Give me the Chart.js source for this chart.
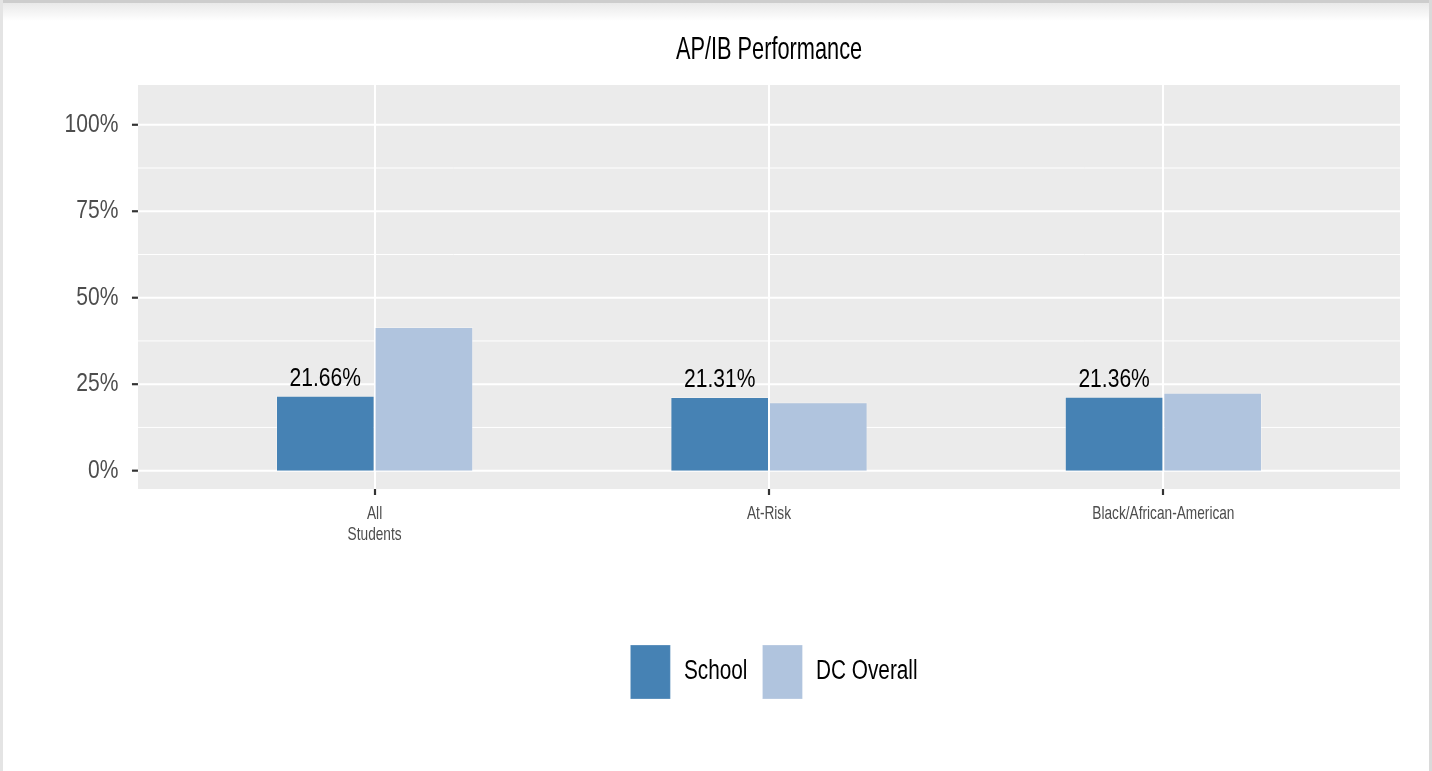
<!DOCTYPE html>
<html>
<head>
<meta charset="utf-8">
<script src="https://cdn.jsdelivr.net/npm/chart.js@4"></script>
<style>
  html, body { margin: 0; padding: 0; background: #fff; }
  body { width: 1432px; height: 771px; position: relative; overflow: hidden; }
  .edgeTop { position: absolute; left: 0; top: 0; width: 1432px; height: 3px; background: #cdcdcd; }
  .shadeTop { position: absolute; left: 0; top: 3px; width: 1432px; height: 18px; background: linear-gradient(#e9e9e9, #fff); }
  .edgeLeft { position: absolute; left: 0; top: 0; width: 3px; height: 771px; background: #e4e4e4; }
  .edgeRight { position: absolute; left: 1429px; top: 0; width: 3px; height: 771px; background: #dadada; }
  #wrap { position: absolute; left: 0; top: 0; width: 1432px; height: 771px; }
</style>
</head>
<body>
<div class="edgeTop"></div>
<div class="shadeTop"></div>
<div class="edgeLeft"></div>
<div class="edgeRight"></div>
<div id="wrap"><canvas id="apChart" width="1432" height="771"></canvas></div>
<script>
// chart values
const categories = [["All", "Students"], "At-Risk", "Black/African-American"];
const schoolValues = [21.66, 21.31, 21.36];
const dcOverallValues = [41.5, 19.8, 22.5];
const majorTicks = [0, 25, 50, 75, 100];
const minorTicks = [12.5, 37.5, 62.5, 87.5];

const FONT = '"Liberation Sans", Arial, Helvetica, sans-serif';
Chart.defaults.font.family = FONT;

// the original uses a narrow helvetica, so squeeze text horizontally per font size
const canvas = document.getElementById("apChart");
const ctx2d = canvas.getContext("2d");
const squeezeBySize = { 32: 0.68, 27: 0.77, 26: 0.81, 19: 0.72 };
function squeezeFor(c) {
  const m = /(\d+(?:\.\d+)?)px/.exec(c.font);
  return (m && squeezeBySize[Math.round(+m[1])]) || 1;
}
const nativeFill = ctx2d.fillText;
const nativeMeasure = ctx2d.measureText;
ctx2d.fillText = function (text, x, y) {
  const k = squeezeFor(this);
  this.save();
  this.translate(x, y);
  this.scale(k, 1);
  nativeFill.call(this, text, 0, 0);
  this.restore();
};
ctx2d.measureText = function (text) {
  const m = nativeMeasure.call(this, text);
  const k = squeezeFor(this);
  return {
    width: m.width * k,
    actualBoundingBoxAscent: m.actualBoundingBoxAscent,
    actualBoundingBoxDescent: m.actualBoundingBoxDescent,
    actualBoundingBoxLeft: m.actualBoundingBoxLeft * k,
    actualBoundingBoxRight: m.actualBoundingBoxRight * k,
  };
};

// grey ggplot-like panel, extends 0.1 category beyond the chart area on both sides
const panelPlugin = {
  id: "panel",
  beforeDraw(chart) {
    const { ctx, chartArea, scales } = chart;
    const xs = scales.x, ys = scales.y;
    const step = xs.getPixelForValue(1) - xs.getPixelForValue(0);
    const left = chartArea.left - 0.1 * step;
    const right = chartArea.right + 0.1 * step;
    ctx.save();
    ctx.fillStyle = "#ebebeb";
    ctx.fillRect(left, chartArea.top, right - left, chartArea.bottom - chartArea.top);
    ctx.strokeStyle = "#ffffff";
    ctx.lineWidth = 1;
    minorTicks.forEach((v) => {
      const y = ys.getPixelForValue(v);
      ctx.beginPath(); ctx.moveTo(left, y); ctx.lineTo(right, y); ctx.stroke();
    });
    ctx.lineWidth = 2;
    majorTicks.forEach((v) => {
      const y = ys.getPixelForValue(v);
      ctx.beginPath(); ctx.moveTo(left, y); ctx.lineTo(right, y); ctx.stroke();
    });
    // y tick marks
    ctx.strokeStyle = "#333333";
    ctx.lineWidth = 2.2;
    majorTicks.forEach((v) => {
      const y = ys.getPixelForValue(v);
      ctx.beginPath(); ctx.moveTo(left - 6, y); ctx.lineTo(left, y); ctx.stroke();
    });
    ctx.restore();
  },
  // legend in the original sits a little right of the panel centre
  afterLayout(chart) {
    chart.legend.left += 5;
    chart.legend.right += 5;
  },
};

// value labels above the School bars
const labelPlugin = {
  id: "barLabels",
  afterDatasetsDraw(chart) {
    const { ctx } = chart;
    const meta = chart.getDatasetMeta(0);
    ctx.save();
    ctx.font = "26px " + FONT;
    ctx.fillStyle = "#000";
    ctx.textAlign = "center";
    ctx.textBaseline = "alphabetic";
    meta.data.forEach((bar, i) => {
      ctx.fillText(schoolValues[i].toFixed(2) + "%", bar.x, bar.y - 10);
    });
    ctx.restore();
  },
};

new Chart(canvas, {
  type: "bar",
  data: {
    labels: categories,
    datasets: [
      {
        label: "School",
        data: schoolValues,
        backgroundColor: "#4682b4",
        borderColor: "rgba(255,255,255,0.25)",
        borderWidth: 1,
        categoryPercentage: 0.5,
        barPercentage: 1.0,
      },
      {
        label: "DC Overall",
        data: dcOverallValues,
        backgroundColor: "#b0c4de",
        borderColor: "rgba(255,255,255,0.25)",
        borderWidth: 1,
        categoryPercentage: 0.5,
        barPercentage: 1.0,
      },
    ],
  },
  options: {
    responsive: false,
    animation: false,
    layout: { padding: { top: 31.3, left: 0, right: 71.4, bottom: 62 } },
    scales: {
      x: {
        offset: true,
        grid: {
          offset: false,
          color: "#ffffff",
          lineWidth: 2,
          drawTicks: true,
          tickLength: 6,
          tickColor: "#333333",
          tickWidth: 2.2,
        },
        border: { display: false },
        ticks: {
          color: "#4d4d4d",
          font: { size: 19, lineHeight: 1.1 },
          padding: 8,
          maxRotation: 0,
          autoSkip: false,
        },
        afterFit(scale) { scale.height = 141; },
      },
      y: {
        min: -5.3,
        max: 111.5,
        grid: { display: false, drawTicks: false },
        border: { display: false },
        ticks: {
          color: "#4d4d4d",
          font: { size: 26 },
          padding: 59,
          callback: (v) => v + "%",
        },
        afterBuildTicks(scale) { scale.ticks = majorTicks.map((v) => ({ value: v })); },
        afterFit(scale) { scale.width = 177.4; },
      },
    },
    plugins: {
      title: {
        display: true,
        text: "AP/IB Performance",
        fullSize: false,
        color: "#000",
        font: { size: 32, weight: "normal" },
        padding: { top: 0, bottom: 15.3 },
      },
      legend: {
        position: "bottom",
        fullSize: false,
        labels: {
          boxWidth: 40,
          boxHeight: 54,
          padding: 15,
          color: "#000",
          font: { size: 27 },
        },
      },
      tooltip: { enabled: false },
    },
  },
  plugins: [panelPlugin, labelPlugin],
});
</script>
</body>
</html>
